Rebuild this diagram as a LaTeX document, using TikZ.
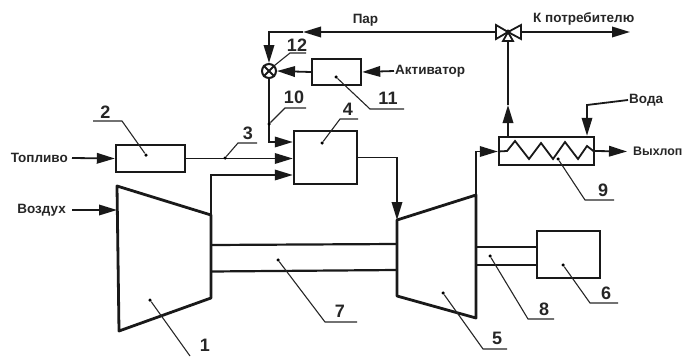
\documentclass[tikz,border=0pt]{standalone}
\usepackage{fontspec}
\setmainfont{Liberation Sans}
\usetikzlibrary{arrows.meta}
\tikzset{
  unit/.style={draw=black!90, line width=2.4pt, inner sep=0pt},
  hull/.style={draw=black!90, line width=2.8pt, line join=round},
  shaft/.style={draw=black!90, line width=2.2pt},
  flow/.style={draw=black!90, line width=1.8pt, -{Triangle[length=18pt,width=10.5pt]}},
  pipe/.style={draw=black!90, line width=1.8pt},
  leader/.style={draw=black!85, line width=1.1pt},
  tag/.style={font=\fontsize{18}{20}\selectfont\bfseries, text=black!85, inner sep=0pt},
  medium/.style={font=\fontsize{13.5}{15}\selectfont\bfseries, text=black!85, inner sep=1pt},
  pin/.style={circle, fill=black, inner sep=0pt, minimum size=3.5pt},
  mixer/.style={circle, draw=black!90, line width=2pt, inner sep=0pt, minimum size=14pt},
}

\begin{document}
\begin{tikzpicture}[x=1pt, y=-1pt]
\useasboundingbox (0,0) rectangle (685,356);
% units
\node[unit, minimum width=69pt, minimum height=27pt] (box2) at (150.5,158.5) {};
\node[unit, minimum width=63pt, minimum height=53pt] (box4) at (325.5,157.5) {};
\node[unit, minimum width=63pt, minimum height=47pt] (box6) at (568.5,254.5) {};
\node[unit, minimum width=95pt, minimum height=28pt] (box9) at (546.5,151) {};
\node[unit, minimum width=49pt, minimum height=26pt] (box11) at (336.5,72) {};
\node[mixer] (mix12) at (269,71) {};
\draw[pipe] (mix12.north west) -- (mix12.south east);
\draw[pipe] (mix12.north east) -- (mix12.south west);
% compressor and turbine
\coordinate (compTL) at (117,186);
\coordinate (compTR) at (211,215);
\coordinate (compBR) at (211,298);
\coordinate (compBL) at (119,331);
\coordinate (turbTL) at (397,220);
\coordinate (turbTR) at (476,195);
\coordinate (turbBR) at (476,318);
\coordinate (turbBL) at (397,296);
\draw[hull] (compTL) -- (compTR) -- (compBR) -- (compBL) -- cycle;
\draw[hull] (turbTL) -- (turbTR) -- (turbBR) -- (turbBL) -- cycle;
% shafts
\draw[shaft] (211,245) coordinate (sh7a) -- (397,244) coordinate (sh7b);
\draw[shaft] (211,271.500) coordinate (sh7c) -- (397,270) coordinate (sh7d);
\draw[shaft] (476,247) coordinate (sh8a) -- (box6.west |- sh8a);
\draw[shaft] (476,265) coordinate (sh8c) -- (box6.west |- sh8c);
% valve
\coordinate (valve) at (508,32);
\draw[pipe, fill=white] (valve) -- (496,25) -- (496,39) -- cycle;
\draw[pipe, fill=white] (valve) -- (521,25) -- (521,39) -- cycle;
\draw[pipe, fill=white] (valve) -- (503,41) -- (513,41) -- cycle;
\fill[black!90] (valve) circle (2.5pt);
% media
\node[medium, anchor=east] (fuel) at (69,158) {Топливо};
\node[medium, anchor=east] (air) at (67,210) {Воздух};
\node[medium, anchor=west] (activ) at (394,71) {Активатор};
\node[medium] (steam) at (365.500,20.500) {Пар};
\node[medium, anchor=west] (consumer) at (532,18.500) {К потребителю};
\node[medium, anchor=west] (water) at (628,100) {Вода};
\node[medium, anchor=west, font=\fontsize{12.4}{15}\selectfont\bfseries] (exhaust) at (632,151) {Выхлоп};
% flows
\draw[flow] (fuel.east) ++(3,0) -- (box2.west);
\draw[flow] (air.east) ++(5,0) -- (117,210);
\draw[flow] (box2.east) -- (box4.west |- box2.east);
\draw[flow] (compTR) -- (211,175) -- (box4.west |- 0,175);
\draw[flow] (mix12.south) -- (269,142) -- (box4.west |- 0,142);
\draw[flow] (box4.east) -- (397,157.500) -- (turbTL);
\draw[flow] (turbTR) -- (476,151.500) -- (box9.west |- 0,151.500);
\draw[flow] (box9.east) -- (627,151.500);
\draw[flow] (water.west) -- (587,105) -- (box9.north -| 587,0);
\draw[flow] (box9.north -| 508,0) -- (508,105);
\draw[pipe] (508,105) -- (508,41);
\draw[flow] (521,32) -- (630,32);
\draw[flow] (496,32) -- (303,32);
\draw[pipe] (303,32) -- (269,32) -- (269,50);
\draw[flow] (269,50) -- (mix12.north);
\draw[flow] (box11.west) -- (mix12.east);
\draw[flow] (activ.west) -- (box11.east);
% coil
\draw[pipe] (box9.west |- 0,151.500) -- (507,151) -- (515,141) -- (529,159) -- (541,143) -- (553,159) -- (565,142) -- (578,159) -- (587,146) -- (594,151.500);
% labels
\node[pin] (pin1) at (150,300) {};
\coordinate (end1) at (190,356);
\draw[leader] (pin1) -- (end1);
\node[tag] (tag1) at (205,345) {1};
\node[pin] (pin2) at (146,155) {};
\draw[leader] (pin2) -- (122,121) -- (93,121);
\node[tag] (tag2) at (105.500,112) {2};
\node[pin] (pin3) at (225,158) {};
\draw[leader] (pin3) -- (238,143) -- (257,143);
\node[tag] (tag3) at (248,133) {3};
\node[pin] (pin4) at (322,143) {};
\draw[leader] (pin4) -- (340,119) -- (358,119);
\node[tag] (tag4) at (348,109) {4};
\node[pin] (pin5) at (443,293) {};
\draw[leader] (pin5) -- (483,349) -- (507,349);
\node[tag] (tag5) at (497,338) {5};
\node[pin] (pin6) at (563,265) {};
\draw[leader] (pin6) -- (590,303) -- (618,303);
\node[tag] (tag6) at (606,293) {6};
\node[pin] (pin7) at (278,260) {};
\draw[leader] (pin7) -- (325,322) -- (357,322);
\node[tag] (tag7) at (340,311) {7};
\node[pin] (pin8) at (490,256) {};
\draw[leader] (pin8) -- (528,319) -- (554,319);
\node[tag] (tag8) at (544,309) {8};
\node[pin] (pin9) at (558,159) {};
\draw[leader] (pin9) -- (585,200) -- (614,200);
\node[tag] (tag9) at (603,190) {9};
\node[pin] (pin10) at (269,124) {};
\draw[leader] (pin10) -- (285,108) -- (306,108);
\node[tag] (tag10) at (294,97) {10};
\node[pin] (pin11) at (336,77) {};
\draw[leader] (pin11) -- (370,109) -- (404,109);
\node[tag] (tag11) at (388,98) {11};
\coordinate (pin12) at (mix12.north east);
\draw[leader] (pin12) -- (290,53) -- (306,53);
\node[tag] (tag12) at (297,45) {12};
\end{tikzpicture}
\end{document}
